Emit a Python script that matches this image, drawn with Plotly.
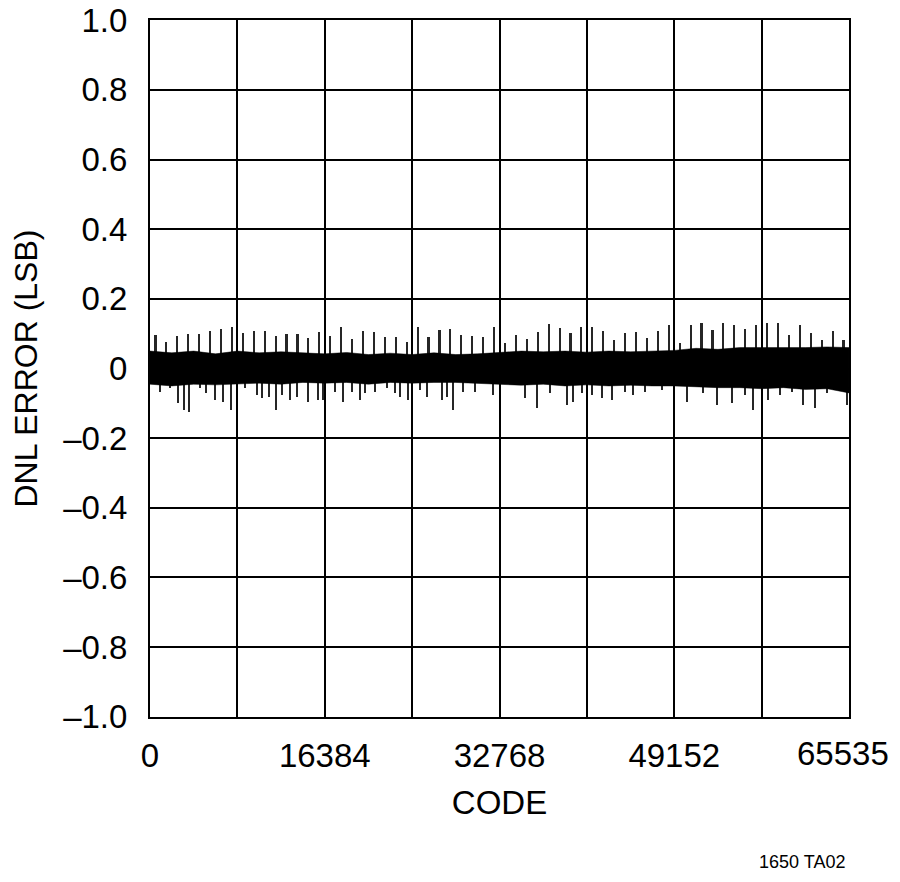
import plotly.graph_objects as go

# ---- data ----
env_codes = [i * 2048 for i in range(32)] + [65535]
env_upper = [0.050, 0.045, 0.050, 0.042, 0.050, 0.045, 0.048, 0.044, 0.042, 0.046, 0.040,
             0.044, 0.040, 0.045, 0.040, 0.042, 0.045, 0.050, 0.048, 0.050, 0.047, 0.050,
             0.048, 0.050, 0.052, 0.058, 0.055, 0.060, 0.060, 0.058, 0.060, 0.062, 0.060]
env_lower = [-0.045, -0.050, -0.045, -0.047, -0.045, -0.042, -0.045, -0.040, -0.042, -0.040,
             -0.045, -0.040, -0.042, -0.040, -0.040, -0.042, -0.045, -0.048, -0.045, -0.050,
             -0.047, -0.050, -0.048, -0.050, -0.050, -0.052, -0.055, -0.055, -0.058, -0.055,
             -0.060, -0.058, -0.070]

up_codes = [512 + 1024 * k for k in range(64)]
up_vals = [0.096, 0.076, 0.093, 0.099, 0.099, 0.108, 0.113, 0.119, 0.102, 0.108, 0.108, 0.093,
           0.099, 0.099, 0.088, 0.105,
           0.093, 0.119, 0.085, 0.108, 0.105, 0.090, 0.090, 0.076, 0.119, 0.090, 0.110, 0.113,
           0.096, 0.093, 0.090, 0.119,
           0.073,
           0.096, 0.085, 0.105, 0.128, 0.116, 0.102, 0.119, 0.119, 0.108, 0.082, 0.102, 0.105,
           0.088, 0.108, 0.125,
           0.073,
           0.125, 0.130, 0.110, 0.130, 0.125, 0.113, 0.125, 0.130, 0.130, 0.096, 0.125, 0.102,
           0.082, 0.108, 0.082]

down_codes = [938, 1875, 2625, 3188, 3656, 4688, 5250, 6094, 6844, 7594, 8907, 10032, 10501,
              11157, 11813, 12376, 13126, 13782, 14813, 15751,
              16220, 17345, 18095, 18939, 19689, 20157, 21095, 22220, 22970, 23439, 24189,
              25314, 25970, 27376, 27845, 28408, 29345, 30470, 32158,
              35158, 36283, 37502, 39096, 39658, 40502, 41440, 42377, 43315, 44534, 45284,
              46409, 48003,
              50347, 51847, 53160, 54566, 55785, 56535, 57941, 59066, 60191, 61222, 62347,
              63472, 65347]
down_vals = [-0.067, -0.057, -0.099, -0.119, -0.125, -0.057, -0.070, -0.090, -0.096, -0.119,
             -0.057, -0.076, -0.085, -0.082, -0.119, -0.076, -0.090, -0.082, -0.096, -0.090,
             -0.090, -0.067, -0.096, -0.067, -0.090, -0.070, -0.067, -0.057, -0.070, -0.082,
             -0.090, -0.062, -0.082, -0.090, -0.082, -0.119, -0.067, -0.067, -0.076,
             -0.085, -0.113, -0.070, -0.105, -0.096, -0.070, -0.076, -0.085, -0.090, -0.067,
             -0.076, -0.067, -0.062,
             -0.096, -0.070, -0.105, -0.099, -0.076, -0.119, -0.090, -0.076, -0.067, -0.105,
             -0.113, -0.070, -0.105]

x_tickvals = [0, 8192, 16384, 24576, 32768, 40960, 49152, 57344, 65535]
x_ticktext = ["0", "", "16384", "", "32768", "", "49152", "", ""]
x_last_label = "65535"
y_tickvals = [-1.0, -0.8, -0.6, -0.4, -0.2, 0.0, 0.2, 0.4, 0.6, 0.8, 1.0]
y_ticktext = ["\u20131.0", "\u20130.8", "\u20130.6", "\u20130.4", "\u20130.2", "0",
              "0.2", "0.4", "0.6", "0.8", "1.0"]

FONT = "Liberation Sans, Arial, sans-serif"

# page body adds an 8px offset; keep the div inside the window (no scrollbars)
W, H = 884, 866
L, T, PW, PH = 142, 12, 699, 697

fig = go.Figure()

fig.add_trace(go.Scatter(
    x=env_codes + env_codes[::-1],
    y=env_upper + env_lower[::-1],
    fill="toself", fillcolor="black", mode="lines",
    line=dict(width=0.5, color="black"), hoverinfo="skip", showlegend=False))

fig.add_trace(go.Bar(x=up_codes, y=up_vals, width=200,
                     marker=dict(color="#262626", line=dict(width=0)), showlegend=False))
fig.add_trace(go.Bar(x=down_codes, y=down_vals, width=200,
                     marker=dict(color="#262626", line=dict(width=0)), showlegend=False))

fig.update_layout(
    width=W, height=H,
    margin=dict(l=L, r=W - L - PW, t=T, b=H - T - PH, autoexpand=False),
    paper_bgcolor="white", plot_bgcolor="white",
    barmode="overlay", bargap=0,
    font=dict(family=FONT, color="black", size=33),
    xaxis=dict(range=[0, 65535.5], tickmode="array", tickvals=x_tickvals, ticktext=x_ticktext,
               showgrid=True, gridcolor="black", gridwidth=1.5,
               showline=True, linecolor="black", linewidth=2, mirror=True,
               ticks="", ticklabelstandoff=8, ticklabeloverflow="allow",
               zeroline=False, automargin=False,
               title=dict(text="CODE", standoff=18, font=dict(size=33))),
    yaxis=dict(range=[-1.0008, 1.0008], tickmode="array", tickvals=y_tickvals, ticktext=y_ticktext,
               showgrid=True, gridcolor="black", gridwidth=1.5,
               showline=True, linecolor="black", linewidth=2, mirror=True,
               ticks="", ticklabelstandoff=14, ticklabeloverflow="allow",
               zeroline=False, automargin=False),
    annotations=[
        dict(text=x_last_label, x=x_tickvals[-1], xref="x", y=-37 / PH,
             yref="paper", showarrow=False, xanchor="right", xshift=42, yanchor="middle",
             font=dict(size=33)),
        dict(text="DNL ERROR (LSB)", x=(17 - L) / PW, y=0.5, xref="paper", yref="paper",
             showarrow=False, textangle=-90, xanchor="center", yanchor="middle",
             font=dict(size=32)),
        dict(text="1650 TA02", x=(839 - L) / PW, y=-(H - T - PH) / PH,
             xref="paper", yref="paper", showarrow=False,
             xanchor="right", yanchor="bottom", font=dict(size=18)),
    ],
)

fig.write_html("out.html")
